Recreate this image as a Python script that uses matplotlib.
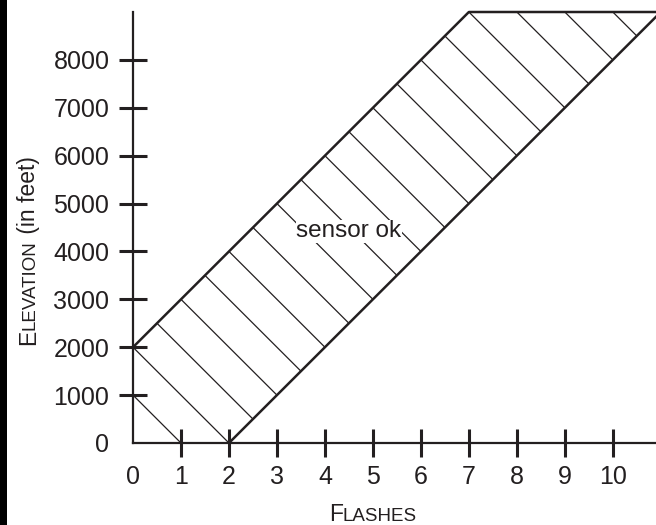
import numpy as np
import matplotlib
matplotlib.use("Agg")
import matplotlib.pyplot as plt
from matplotlib.patches import Polygon, Rectangle

# boundaries of the "sensor ok" band (flashes, elevation in feet)
upper_flashes = [0, 7, 11]
upper_elev = [2000, 9000, 9000]
lower_flashes = [0, 2, 11]
lower_elev = [0, 0, 9000]

x_ticks = list(range(0, 11))
y_ticks = list(range(0, 9000, 1000))
region_label = "sensor ok"
region_label_pos = (4.5, 4420)

ink = "#231f20"
plt.rcParams['font.family'] = ['Liberation Sans', 'DejaVu Sans']

fig = plt.figure(figsize=(6.56, 5.25), dpi=100)
ax = fig.add_axes([133/656, 82/525, 523/656, 431/525])
ax.set_xlim(0, 10.9)
ax.set_ylim(0, 9000)

# band outline
poly_pts = list(zip(lower_flashes[1:], lower_elev[1:])) + \
    list(zip(upper_flashes[::-1], upper_elev[::-1])) + [(0, 0)]
band = Polygon(poly_pts, closed=True, facecolor='none', edgecolor='none')
ax.add_patch(band)

# hatch: diagonal lines running down-right, clipped to the band
xs = np.array([-1, 12])
for c in range(1000, 20001, 1000):
    ln, = ax.plot(xs, c - 1000 * xs, color=ink, lw=0.9)
    ln.set_clip_path(band)

ax.plot(upper_flashes, upper_elev, color=ink, lw=1.8, clip_on=False, solid_capstyle='butt')
ax.plot(lower_flashes[1:], lower_elev[1:], color=ink, lw=1.8, clip_on=False)

ax.text(region_label_pos[0], region_label_pos[1], region_label, fontsize=17.5,
        color=ink, ha='center', va='center',
        bbox=dict(facecolor='white', edgecolor='none', pad=0.5))

for s in ['top', 'right']:
    ax.spines[s].set_visible(False)
for s in ['left', 'bottom']:
    ax.spines[s].set_linewidth(1.6)
    ax.spines[s].set_color(ink)

ax.set_xticks(x_ticks)
ax.set_yticks(y_ticks)
ax.tick_params(direction='inout', length=20, width=2.2, color=ink,
               labelsize=18, labelcolor=ink)
ax.tick_params(axis='x', pad=6)
ax.tick_params(axis='y', pad=7)
ax.xaxis.get_major_ticks()[0].tick1line.set_visible(False)
ax.yaxis.get_major_ticks()[0].tick1line.set_visible(False)


def small_caps(parts, x0, y0, rotation=0):
    # parts: list of (text, size); pieces laid out one after another on one baseline
    prev = None
    for txt, size in parts:
        if prev is None:
            prev = fig.text(x0, y0, txt, fontsize=size, color=ink, rotation=rotation,
                            rotation_mode='anchor', ha='left', va='baseline')
        else:
            if rotation == 0:
                xy, coords = (1, y0), (prev, 'figure fraction')
            else:
                xy, coords = (x0, 1), ('figure fraction', prev)
            prev = ax.annotate(txt, xy=xy, xycoords=coords, fontsize=size, color=ink,
                               rotation=rotation, rotation_mode='anchor',
                               ha='left', va='baseline', annotation_clip=False)


small_caps([("F", 16.5), ("LASHES", 13.5)], 329/656, 4/525)
small_caps([("E", 16.5), ("LEVATION", 13.5), (" (in feet)", 16.5)], 35/656, 180/525, rotation=90)

# dark strip along the left edge of the scan
fig.patches.append(Rectangle((0, 0), 7/656, 1, transform=fig.transFigure,
                             facecolor='black', edgecolor='none'))

fig.savefig("out.png", dpi=100)
